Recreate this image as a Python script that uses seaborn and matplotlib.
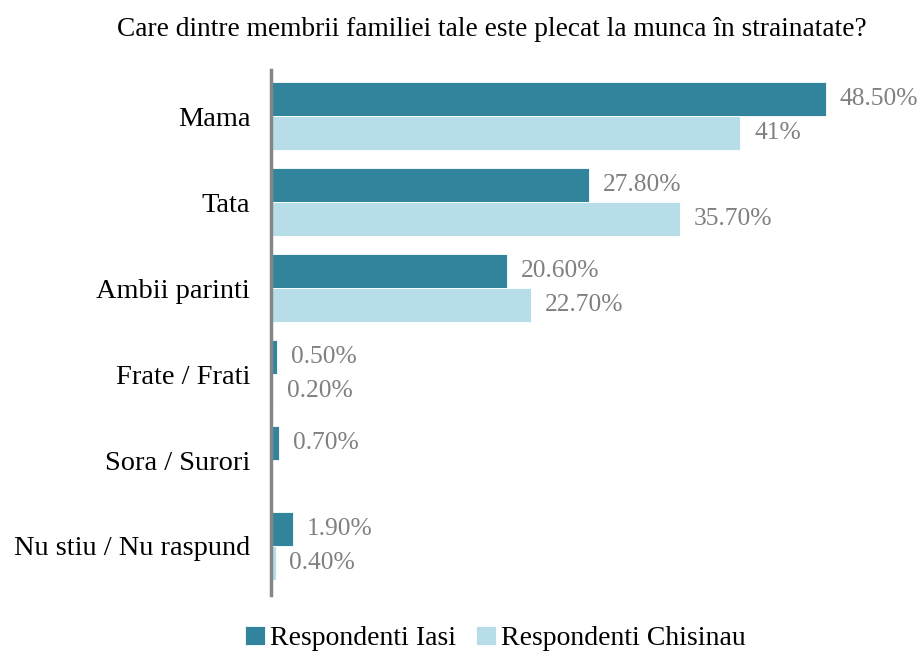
import numpy as np
import pandas as pd
import seaborn as sns
import matplotlib.pyplot as plt

# date
categorii = ["Mama", "Tata", "Ambii parinti", "Frate / Frati", "Sora / Surori", "Nu stiu / Nu raspund"]
iasi = [48.5, 27.8, 20.6, 0.5, 0.7, 1.9]
chisinau = [41.0, 35.7, 22.7, 0.2, 0.0, 0.4]
etichete_iasi = ["48.50%", "27.80%", "20.60%", "0.50%", "0.70%", "1.90%"]
etichete_chisinau = ["41%", "35.70%", "22.70%", "0.20%", "", "0.40%"]
serii = ["Respondenti Iasi", "Respondenti Chisinau"]

df = pd.DataFrame({
    "categorie": categorii * 2,
    "valoare": iasi + chisinau,
    "serie": [serii[0]] * len(categorii) + [serii[1]] * len(categorii),
})

sns.set_style("white")
plt.rcParams["font.family"] = ["Liberation Serif", "DejaVu Serif"]
plt.rcParams["text.color"] = "black"
plt.rcParams["ytick.color"] = "black"

fig = plt.figure(figsize=(9.23, 6.56), dpi=100)
ax = fig.add_axes([0.2936, 0.093, 0.62, 0.8])

sns.barplot(data=df, y="categorie", x="valoare", hue="serie", order=categorii,
            hue_order=serii, palette=["#31849B", "#B7DEE8"], saturation=1,
            width=0.79, orient="h", edgecolor="white", linewidth=0.6, ax=ax)

for cont, et in zip(ax.containers, [etichete_iasi, etichete_chisinau]):
    ax.bar_label(cont, labels=et, padding=10, fontsize=18.4, color="#808080")

ax.set_xlim(0, 50)
ax.set_ylim(5.57, -0.535)
ax.set_xlabel("")
ax.set_ylabel("")
ax.set_xticks([])
ax.tick_params(axis="y", length=0, labelsize=20.4, pad=15, labelcolor="black")
for s in ["top", "right", "bottom"]:
    ax.spines[s].set_visible(False)
ax.spines["left"].set_color("#868686")
ax.spines["left"].set_linewidth(2.5)

fig.suptitle("Care dintre membrii familiei tale este plecat la munca în strainatate?",
             fontsize=19.7, x=0.533, y=0.955, va="center", color="black")

handles, labels = ax.get_legend_handles_labels()
ax.get_legend().remove()
fig.legend(handles, labels, loc="center", bbox_to_anchor=(0.537, 0.027), ncol=2,
           frameon=False, fontsize=20, handlelength=0.7, handleheight=0.7,
           handletextpad=0.2, columnspacing=0.7, labelcolor="black")

fig.savefig("out.png", dpi=100)
